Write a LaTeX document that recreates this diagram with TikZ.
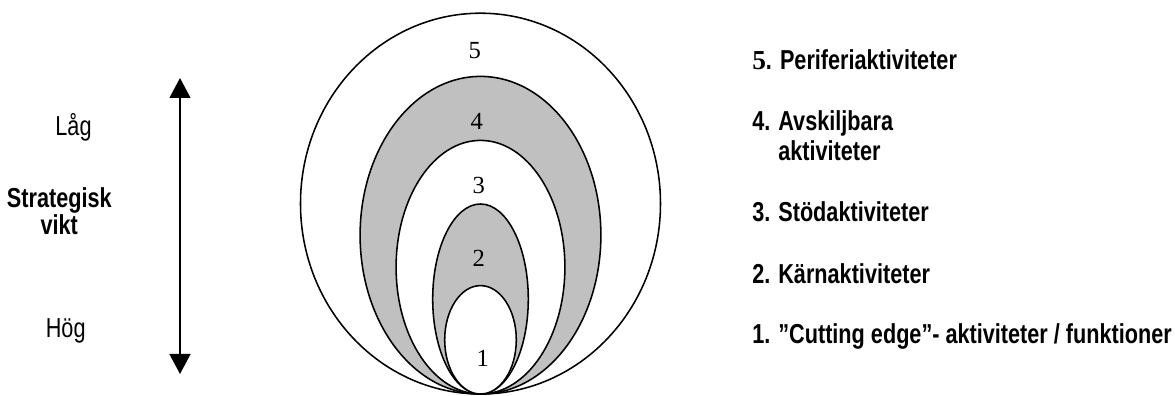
\documentclass[tikz,border=0pt]{standalone}
\usepackage{fontspec}
\setmainfont{Liberation Sans}[FakeStretch=0.79]
\newfontfamily\numfont{Liberation Serif}
\usetikzlibrary{arrows.meta}
\definecolor{ringgray}{RGB}{192,192,192}
\tikzset{
  ring/.style={draw,line width=1.1pt},
  ringnum/.style={inner sep=0pt,font=\numfont\fontsize{17.5}{17.5}\selectfont},
  legend/.style={anchor=base west,inner sep=0pt,align=left,font=\bfseries\fontsize{19.5}{21.8}\selectfont},
  axislabel/.style={anchor=base,inner sep=0pt,align=center,font=\fontsize{19.5}{18}\selectfont},
  bigtip/.tip={Triangle[width=0.52cm,length=0.5cm]}
}

\begin{document}
\begin{tikzpicture}
\useasboundingbox (-12.0125,-0.05) rectangle (17.3625,9.85);

% nested rings, all touching at the origin
\foreach \rx/\ry/\col in {4.5/4.76/white,3.01/3.97/ringgray,2.11/3.17/white,1.195/2.375/ringgray,0.895/1.355/white}
  \draw[ring,fill=\col] (0,\ry) ellipse (\rx cm and \ry cm);

\node[ringnum] (n5) at (-0.14,8.575) {5};
\node[ringnum] (n4) at (-0.09,6.825) {4};
\node[ringnum] (n3) at (-0.04,5.225) {3};
\node[ringnum] (n2) at (-0.04,3.4) {2};
\node[ringnum] (n1) at (0.06,0.9) {1};

% strategic weight axis
\coordinate (hi) at (-7.5125,7.9);
\coordinate (lo) at (-7.5125,0.5);
\draw[line width=1.4pt,bigtip-bigtip] (lo) -- (hi);

% (base of a two-line node is its last line)
\node[axislabel] (low) at (-10.175,6.45) {Låg};
\node[axislabel,font=\bfseries\fontsize{19.5}{18}\selectfont] (weight) at (-10.53,3.99) {Strategisk\\vikt};
\node[axislabel] (high) at (-10.37,1.41) {Hög};

% legend
\node[legend] (l5) at (6.7875,8.1175) {{\numfont 5}. Periferiaktiviteter};
\node[legend] (l4) at (6.7875,5.83) {4. Avskiljbara\\\phantom{4. }aktiviteter};
\node[legend] (l3) at (6.7875,4.3075) {3. Stödaktiviteter};
\node[legend] (l2) at (6.7875,2.7675) {2. Kärnaktiviteter};
\node[legend] (l1) at (6.7875,1.2675) {1. ”Cutting edge”- aktiviteter / funktioner};
\end{tikzpicture}
\end{document}
